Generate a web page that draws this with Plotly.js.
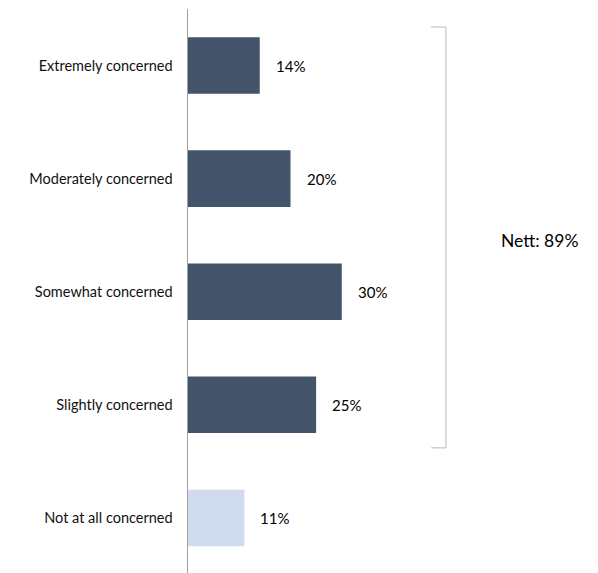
<!DOCTYPE html>
<html>
<head>
<meta charset="utf-8">
<script src="https://cdn.plot.ly/plotly-3.0.1.min.js"></script>
<style>html,body{margin:0;padding:0;background:#fff;}#chart{width:598px;height:573px;}</style>
</head>
<body>
<div id="chart"></div>
<script>
const categories = ["Extremely concerned", "Moderately concerned", "Somewhat concerned", "Slightly concerned", "Not at all concerned"];
const values = [14, 20, 30, 25, 11];
const barColors = ["#44546A", "#44546A", "#44546A", "#44546A", "#D0DCEE"];
const nettLabel = "Nett: 89%";

const fontFam = "Lato, 'Open Sans', sans-serif";

const trace = {
  type: "bar",
  orientation: "h",
  y: categories,
  x: values,
  marker: {color: barColors, line: {width: 0}},
  hoverinfo: "none",
  cliponaxis: false
};

const annotations = values.map((v, i) => ({
  x: v, y: categories[i], xref: "x", yref: "y",
  text: v + "%", showarrow: false, xanchor: "left", xshift: 14,
  font: {family: fontFam, size: 15, color: "#000"}
}));
annotations.push({
  xref: "paper", yref: "paper", x: 0.857, y: 0.59,
  text: nettLabel, showarrow: false, xanchor: "center", yanchor: "middle",
  font: {family: fontFam, size: 17.5, color: "#000"}
});

const layout = {
  width: 598, height: 573,
  margin: {l: 188, r: 0, t: 9, b: 0},
  paper_bgcolor: "#fff", plot_bgcolor: "#fff",
  showlegend: false,
  bargap: 0.5,
  xaxis: {range: [0, 80], showgrid: false, zeroline: false, showticklabels: false, showline: false, ticks: ""},
  yaxis: {
    type: "category", range: [4.487, -0.5], autorange: false,
    showgrid: false, zeroline: false, showline: true, linecolor: "#A0A0A0", linewidth: 1.5,
    ticks: "", ticklabelstandoff: 11,
    tickfont: {family: fontFam, size: 14.5, color: "#111"}
  },
  shapes: [
    {type: "line", xref: "paper", yref: "paper", x0: 0.629, x1: 0.629, y0: 0.968, y1: 0.222, line: {color: "#D0D0D0", width: 1.5}},
    {type: "line", xref: "paper", yref: "paper", x0: 0.593, x1: 0.629, y0: 0.968, y1: 0.968, line: {color: "#D0D0D0", width: 1.5}},
    {type: "line", xref: "paper", yref: "paper", x0: 0.593, x1: 0.629, y0: 0.222, y1: 0.222, line: {color: "#D0D0D0", width: 1.5}}
  ],
  annotations: annotations
};

Plotly.newPlot("chart", [trace], layout, {displayModeBar: false, staticPlot: true});
</script>
</body>
</html>
